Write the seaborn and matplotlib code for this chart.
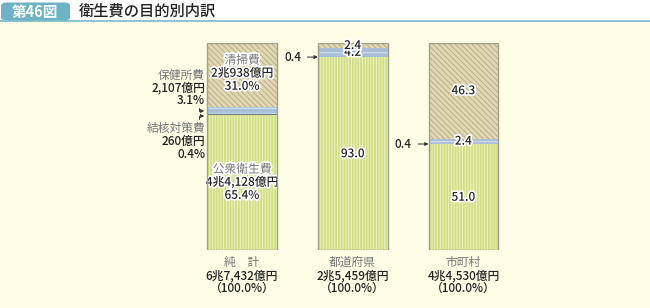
import numpy as np
import pandas as pd
import matplotlib
matplotlib.use("Agg")
import matplotlib.pyplot as plt
import matplotlib.patheffects as pe
from matplotlib.patches import Rectangle, FancyBboxPatch
import seaborn as sns

# data (percent of each total)
groups = ["純　計", "都道府県", "市町村"]
amounts = ["6兆7,432億円", "2兆5,459億円", "4兆4,530億円"]
shares = ["（100.0%）", "（100.0%）", "（100.0%）"]
public_health = [65.4, 93.0, 51.0]    # 公衆衛生費
tuberculosis = [0.4, 0.4, 0.4]        # 結核対策費
health_center = [3.1, 4.2, 2.4]       # 保健所費
cleaning = [31.0, 2.4, 46.3]          # 清掃費

sns.set_theme(style="white")
plt.rcParams["font.family"] = ["Noto Sans CJK JP", "DejaVu Sans"]
plt.rcParams["hatch.linewidth"] = 0.7

W, H = 650, 308
bg = "#fffde6"
fig = plt.figure(figsize=(W / 100, H / 100), dpi=100, facecolor=bg)

def fx(x):
    return x / W

def fy(y):
    return 1 - y / H

# header
fig.patches.append(Rectangle((0, fy(20)), 1, 1 - fy(20), transform=fig.transFigure,
                             facecolor="white", edgecolor="none", zorder=0))
fig.patches.append(Rectangle((0, fy(21.5)), 1, 2 / H, transform=fig.transFigure,
                             facecolor="#8cc5cf", edgecolor="none", zorder=1))
fig.patches.append(FancyBboxPatch((fx(1), fy(20.5)), fx(69), 18 / H, transform=fig.transFigure,
                                  boxstyle="round,pad=0,rounding_size=0.01",
                                  facecolor="#6db3c3", edgecolor="none", zorder=1))
fig.text(fx(35), fy(11.5), "第46図", color="white", fontsize=10.5, fontweight="bold",
         ha="center", va="center")
fig.text(fx(79), fy(11.5), "衛生費の目的別内訳", color="#222222", fontsize=11,
         fontweight="medium", ha="left", va="center")

# axes: y 0..100 -> pixel 250..43, bars at x 242, 352.5, 463.5
step = 110.7
x_left = 242 - 2 * step
ax = fig.add_axes([fx(x_left), fy(250), fx(5 * step), (250 - 43) / H])
ax.set_facecolor("none")

df = pd.DataFrame({"group": groups,
                   "pub": public_health, "tb": tuberculosis,
                   "hc": health_center, "cl": cleaning})
df["c1"] = df["pub"]
df["c2"] = df["c1"] + df["tb"]
df["c3"] = df["c2"] + df["hc"]
df["c4"] = df["c3"] + df["cl"]

layers = [
    ("c4", "#e0d8b5", "#bbae84", "\\\\\\\\\\\\"),
    ("c3", "#aac0d8", "#d6e2ee", "---"),
    ("c2", "#6e7880", "#6e7880", None),
    ("c1", "#d3df86", "#eaf1bd", "||||||"),
]
for col, face, hcol, hatch in layers:
    sns.barplot(data=df, x="group", y=col, order=groups, color=face, width=0.63,
                errorbar=None, saturation=1, ax=ax)
    for p in ax.containers[-1]:
        p.set_facecolor(face)
        p.set_edgecolor(hcol)
        p.set_linewidth(0)
        if hatch:
            p.set_hatch(hatch)

# outlines around whole bars
for p in ax.containers[0]:
    ax.add_patch(Rectangle((p.get_x(), 0), p.get_width(), p.get_height(),
                           fill=False, edgecolor="#a39f8a", linewidth=1.0, zorder=5))

ax.set_xlim(-2, 3)
ax.set_ylim(0, 100)
ax.set_axis_off()

halo = [pe.withStroke(linewidth=2.5, foreground="white")]
dark = "#222222"
grey = "#777777"
fs = 8.5
gap = 6.3  # line spacing in data units (~13 px)

# labels for the first bar
c1 = df["pub"][0] / 2
ax.text(0, c1 + gap, "公衆衛生費", ha="center", va="center", fontsize=fs, color=grey,
        path_effects=halo)
ax.text(0, c1, "4兆4,128億円", ha="center", va="center", fontsize=fs, color=dark,
        fontweight="medium", path_effects=halo)
ax.text(0, c1 - gap, f"{public_health[0]:.1f}%", ha="center", va="center", fontsize=fs,
        color=dark, fontweight="medium", path_effects=halo)
c4 = df["c3"][0] + cleaning[0] / 2
ax.text(0, c4 + gap + 1, "清掃費", ha="center", va="center", fontsize=fs, color=grey,
        path_effects=halo)
ax.text(0, c4 + 1, "2兆938億円", ha="center", va="center", fontsize=fs, color=dark,
        fontweight="medium", path_effects=halo)
ax.text(0, c4 - gap + 1, f"{cleaning[0]:.1f}%", ha="center", va="center", fontsize=fs,
        color=dark, fontweight="medium", path_effects=halo)

# numeric labels for bars 2 and 3
for i in (1, 2):
    for val, base in ((public_health[i], 0), (health_center[i], df["c2"][i]),
                      (cleaning[i], df["c3"][i])):
        ax.text(i, base + val / 2, f"{val:.1f}", ha="center", va="center", fontsize=fs,
                color=dark, fontweight="medium", path_effects=halo, zorder=6)

# left annotations for first bar
fig.text(fx(205), fy(75), "保健所費", ha="right", va="center", fontsize=fs, color=grey)
fig.text(fx(205), fy(88), "2,107億円", ha="right", va="center", fontsize=fs, color=dark,
         fontweight="medium")
fig.text(fx(205), fy(101), "3.1%", ha="right", va="center", fontsize=fs, color=dark,
         fontweight="medium")
fig.text(fx(205), fy(128), "結核対策費", ha="right", va="center", fontsize=fs, color=grey)
fig.text(fx(205), fy(141), "260億円", ha="right", va="center", fontsize=fs, color=dark,
         fontweight="medium")
fig.text(fx(205), fy(154), "0.4%", ha="right", va="center", fontsize=fs, color=dark,
         fontweight="medium")

arrow = dict(arrowstyle="-|>", color="#333333", lw=0.7, mutation_scale=5)
for y in (111, 116):
    ax.annotate("", xy=(fx(207), fy(y)), xytext=(fx(199), fy(y)),
                xycoords="figure fraction", textcoords="figure fraction",
                arrowprops=arrow)
fig.lines.append(plt.Line2D([fx(199), fx(199)], [fy(108), fy(111)],
                            transform=fig.transFigure, color="#333333", lw=0.7))
fig.lines.append(plt.Line2D([fx(199), fx(199)], [fy(116), fy(119)],
                            transform=fig.transFigure, color="#333333", lw=0.7))

# 0.4 pointers for bars 2 and 3
for i in (1, 2):
    y_data = df["c1"][i] + tuberculosis[i] / 2
    left = i - 0.315
    ax.annotate(f"{tuberculosis[i]:.1f}", xy=(left, y_data), xytext=(left - 0.15, y_data),
                ha="right", va="center", fontsize=fs, color=dark, fontweight="medium",
                arrowprops=dict(arrowstyle="-|>", color="#333333", lw=0.7,
                                mutation_scale=5, shrinkA=2, shrinkB=0))

# bottom labels
for i, g in enumerate(groups):
    ax.text(i, -6, g, ha="center", va="center", fontsize=fs, color=grey)
    ax.text(i, -12.4, amounts[i], ha="center", va="center", fontsize=fs, color=dark,
            fontweight="medium")
    ax.text(i, -18.7, shares[i], ha="center", va="center", fontsize=fs, color=dark,
            fontweight="medium")

for t in ax.texts:
    t.set_clip_on(False)

fig.savefig("out.png", dpi=100, facecolor=bg)
